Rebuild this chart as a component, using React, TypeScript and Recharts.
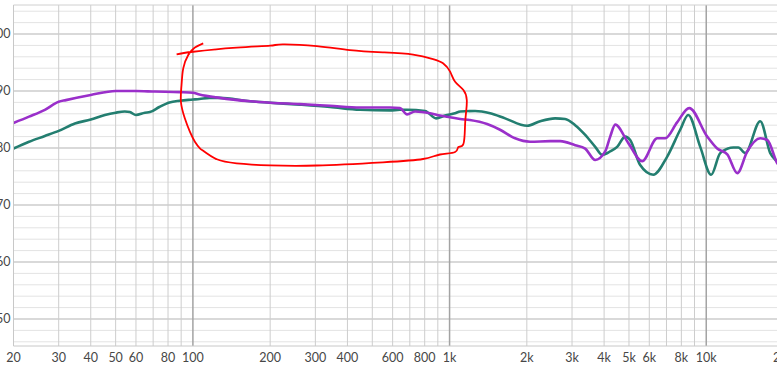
import React from 'react';
import { LineChart, Line, XAxis, YAxis, CartesianGrid, ReferenceLine } from 'recharts';

// frequency response (Hz / dB)
const purpleFreq = [20, 23, 26.5, 30, 32, 40, 50, 60, 71, 89, 100, 106, 127, 167, 200, 261, 342, 448, 586, 641, 683, 734, 840, 918, 1004, 1100, 1200, 1400, 1573, 1800, 2060, 2465, 2700, 3085, 3376, 3693, 4040, 4225, 4420, 4965, 5630, 6442, 6922, 7700, 8586, 10090, 11036, 12076, 13214, 14450, 16234, 17289, 18918, 20000];
const purpleDb = [84.4, 85.5, 86.7, 88.1, 88.4, 89.3, 90.0, 90.0, 89.9, 89.8, 89.7, 89.4, 88.8, 88.2, 87.95, 87.7, 87.4, 87.1, 87.1, 87.0, 85.9, 86.4, 86.1, 85.7, 85.4, 85.1, 84.9, 84.2, 83.2, 81.7, 81.1, 81.2, 81.2, 80.5, 79.9, 77.9, 79.4, 82.0, 84.1, 80.9, 77.7, 81.7, 81.7, 84.5, 87.0, 82.0, 79.9, 78.9, 75.6, 79.4, 81.7, 81.4, 77.3, 76.0];

const tealFreq = [20, 23, 26.5, 30, 34.7, 40, 45.4, 50, 54.3, 56.8, 60, 65, 68, 74, 81, 89, 100, 106, 116, 127, 167, 200, 261, 342, 448, 586, 641, 683, 803, 886, 960, 1050, 1100, 1257, 1439, 1646, 2005, 2253, 2578, 2820, 3085, 3376, 3693, 3930, 4225, 4498, 4833, 5055, 5529, 6215, 7047, 7916, 8509, 9476, 10450, 11339, 12747, 13333, 14192, 16234, 17761, 18918, 20000];
const tealDb = [79.9, 81.1, 82.1, 83.0, 84.3, 85.0, 85.8, 86.2, 86.4, 86.3, 85.8, 86.2, 86.3, 87.2, 88.0, 88.3, 88.5, 88.6, 88.8, 88.8, 88.2, 87.95, 87.6, 87.2, 86.7, 86.6, 86.7, 86.7, 86.5, 85.2, 85.7, 86.1, 86.4, 86.5, 86.1, 85.2, 83.9, 84.7, 85.2, 85.1, 84.0, 82.3, 80.2, 78.8, 79.4, 80.2, 82.0, 81.4, 77.0, 75.3, 78.5, 83.2, 85.8, 80.2, 75.3, 79.1, 80.1, 80.1, 79.1, 84.7, 79.1, 77.6, 76.5];

// hand drawn red loop
const markFreq = [86.4, 100.3, 148, 200, 224, 304, 409, 550, 721, 862, 943, 1005, 1051, 1132, 1167, 1160, 1149, 1132, 1082, 1051, 918, 788, 550, 304, 200, 148, 124, 111, 106.5, 101.8, 97.3, 93.0, 89.8, 90.3, 91.7, 95.9, 101.8, 109.7];
const markDb = [96.44, 96.89, 97.6, 97.95, 98.19, 97.89, 97.19, 96.79, 96.4, 95.61, 94.86, 93.39, 91.63, 90.18, 88.42, 86.32, 84.04, 80.7, 80.18, 79.3, 78.86, 78.07, 77.49, 76.93, 76.96, 77.32, 78.02, 79.35, 79.95, 81.11, 82.86, 85.21, 88.12, 91.05, 93.98, 96.32, 97.63, 98.37];

const xTicks = [20, 30, 40, 50, 60, 80, 100, 200, 300, 400, 600, 800, 1000, 2000, 3000, 4000, 5000, 6000, 8000, 10000, 20000];
const xTickLabels = ['20', '30', '40', '50', '60', '80', '100', '200', '300', '400', '600', '800', '1k', '2k', '3k', '4k', '5k', '6k', '8k', '10k', '20k'];
const yTicks = [50, 60, 70, 80, 90, 100];

const xGrid = [20, 30, 40, 50, 60, 70, 80, 90, 200, 300, 400, 500, 600, 700, 800, 900, 2000, 3000, 4000, 5000, 6000, 7000, 8000, 9000, 20000];
const xGridMajor = [100, 1000, 10000];
const yGridMinor = [46, 48, 52, 54, 56, 58, 62, 64, 66, 68, 72, 74, 76, 78, 82, 84, 86, 88, 92, 94, 96, 98, 102, 104];
const yGridMajor = [50, 60, 70, 80, 90, 100];

const toPoints = (fs: number[], ds: number[]) => fs.map((f, i) => ({ f, db: ds[i] }));

const purpleData = toPoints(purpleFreq, purpleDb);
const tealData = toPoints(tealFreq, tealDb);
const markData = toPoints(markFreq, markDb);

const Y_MIN = 45.26;
const Y_MAX = 105.09;

export default function App() {
  const tickStyle = { fill: '#474747', fontSize: 12.5, fontFamily: "Lato, 'Noto Sans', sans-serif" };
  return (
    <div style={{ position: 'fixed', left: -40, top: 0, width: 840, height: 366, overflow: 'hidden', background: '#fff' }}>
      <LineChart width={840} height={366} margin={{ top: 5, right: 16.5, bottom: 0, left: 0 }}>
        <CartesianGrid horizontal={true} vertical={false} horizontalValues={yGridMinor} stroke="#e3e3e3" />
        <CartesianGrid horizontal={true} vertical={false} horizontalValues={yGridMajor} stroke="#cccccc" strokeWidth={1.3} />
        <CartesianGrid horizontal={false} vertical={true} verticalValues={xGrid} stroke="#cdcdcd" />
        <CartesianGrid horizontal={false} vertical={true} verticalValues={xGridMajor} stroke="#a3a3a3" strokeWidth={1.5} />
        <XAxis
          dataKey="f"
          type="number"
          scale="log"
          domain={[20, 20000]}
          allowDataOverflow
          ticks={xTicks}
          interval={0}
          tickFormatter={(v: number) => xTickLabels[xTicks.indexOf(v)] ?? String(v)}
          tick={tickStyle}
          tickLine={false}
          tickSize={0}
          tickMargin={7}
          height={20}
          stroke="#c8c8c8"
        />
        <YAxis
          type="number"
          domain={[Y_MIN, Y_MAX]}
          allowDataOverflow
          ticks={yTicks}
          interval={0}
          tick={tickStyle}
          tickLine={false}
          tickSize={0}
          tickMargin={3}
          width={53.5}
          stroke="#c8c8c8"
        />
        <ReferenceLine y={Y_MAX} stroke="#d0d0d0" />
        <Line data={tealData} dataKey="db" type="monotone" stroke="#237e70" strokeWidth={2.6} dot={false} isAnimationActive={false} />
        <Line data={purpleData} dataKey="db" type="monotone" stroke="#9a2fca" strokeWidth={2.6} dot={false} isAnimationActive={false} />
        <Line data={markData} dataKey="db" type="natural" stroke="#ff0000" strokeWidth={1.8} dot={false} isAnimationActive={false} />
      </LineChart>
    </div>
  );
}
